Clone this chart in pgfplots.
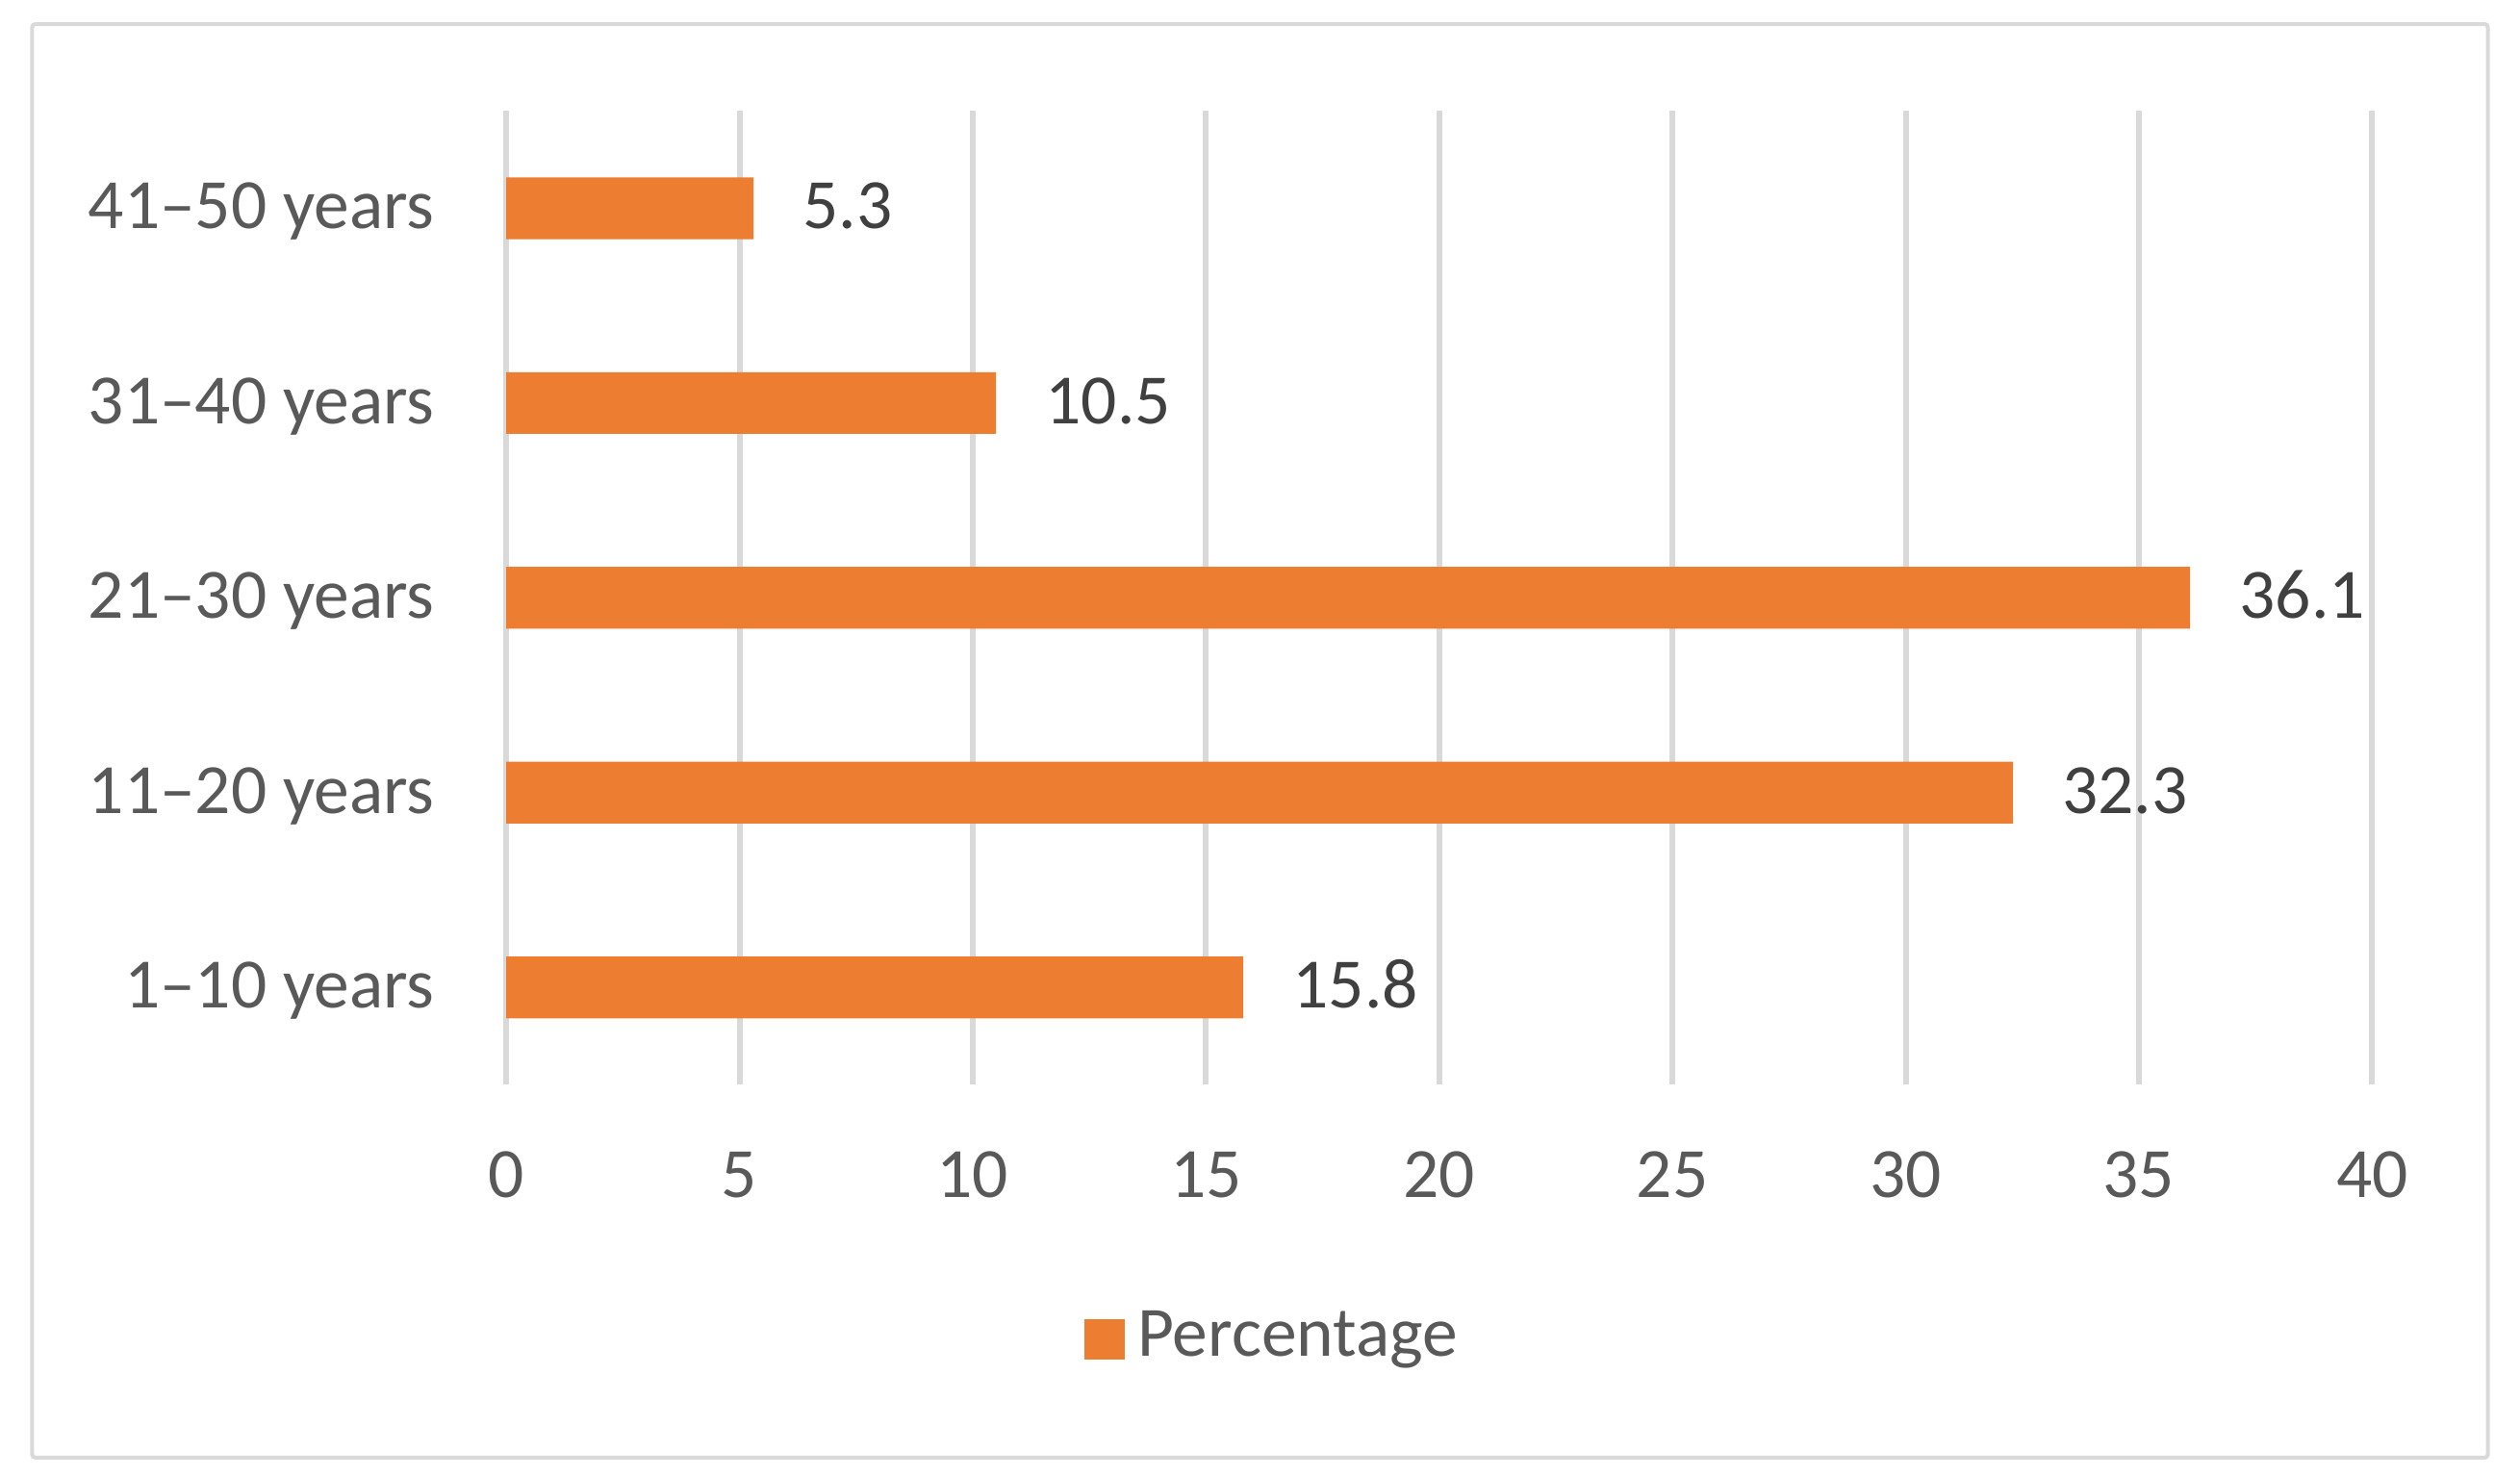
\documentclass[border=0pt]{standalone}
\usepackage{pgfplots}
\pgfplotsset{compat=1.18}
\usepackage{fontspec}
\setmainfont{Carlito}
\definecolor{barorange}{HTML}{ED7D31}
\definecolor{gridgray}{HTML}{D9D9D9}
\definecolor{txtgray}{HTML}{595959}
\definecolor{lblgray}{HTML}{404040}
\begin{document}
\begin{tikzpicture}
\path[use as bounding box] (0,0) rectangle (392pt,229.5pt);
\draw[gridgray, line width=0.6pt, rounded corners=0.5pt] (5pt,2.75pt) rectangle (387pt,225.75pt);
\begin{axis}[
  at={(78.75pt,60.75pt)}, anchor=south west,
  scale only axis, width=290.25pt, height=151.5pt,
  xbar, bar width=9.6pt,
  xmin=0, xmax=40, ymin=-0.5, ymax=4.5,
  xtick={0,5,...,40},
  ytick={0,1,2,3,4},
  yticklabels={1–10 years,11–20 years,21–30 years,31–40 years,41–50 years},
  /pgf/number format/assume math mode=true,
  axis line style={draw=none},
  major tick length=0pt,
  xmajorgrids, ymajorgrids=false,
  major grid style={gridgray, line width=0.9pt},
  tick label style={font=\fontsize{11}{13}\selectfont, text=txtgray},
  x tick label style={anchor=north, inner sep=0pt, yshift=-10.25pt},
  y tick label style={anchor=base east, inner sep=0pt, xshift=-11pt, yshift=-3.2pt},
  nodes near coords={\pgfmathprintnumber[fixed,precision=1,assume math mode=true]{\pgfplotspointmeta}},
  every node near coord/.append style={anchor=base west, inner sep=0pt, xshift=7.5pt, yshift=-3.2pt, font=\fontsize{11}{13}\selectfont, text=lblgray},
  legend style={at={(0.4134,-0.26)}, anchor=center, draw=none, fill=none,
    font=\fontsize{11}{13}\selectfont, text=txtgray, inner sep=0pt,
    nodes={xshift=0.8pt},
    /tikz/every even column/.append style={column sep=0pt}},
  legend image code/.code={\fill[barorange] (0pt,-3.3pt) rectangle (6.25pt,2.95pt);},
  legend cell align=left,
]
\addplot[fill=barorange, draw=none] coordinates {(15.8,0) (32.3,1) (36.1,2) (10.5,3) (5.3,4)};
\addlegendentry{Percentage}
\end{axis}
\end{tikzpicture}
\end{document}
